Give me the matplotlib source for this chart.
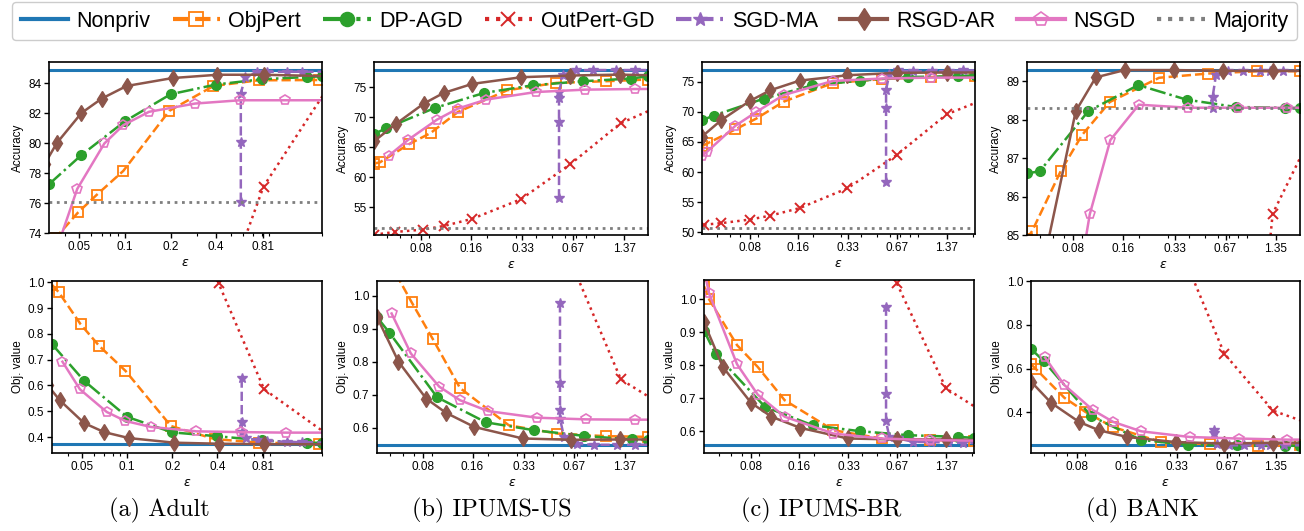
import numpy as np
import matplotlib
matplotlib.use('Agg')
import matplotlib.pyplot as plt
from matplotlib.lines import Line2D
from matplotlib.ticker import NullFormatter

plt.rcParams['font.family'] = ['Liberation Sans', 'DejaVu Sans']

METHODS = ['ObjPert', 'DP-AGD', 'OutPert-GD', 'SGD-MA', 'RSGD-AR', 'NSGD']

# ---------------- Adult ----------------
ADULT_EPS = {
    'ObjPert': [0.0315, 0.035, 0.049, 0.065, 0.0975, 0.196, 0.384, 0.762, 1.9],
    'DP-AGD': [0.0315, 0.0516, 0.1, 0.2, 0.4, 0.8, 1.6, 2.0],
    'OutPert-GD': [0.2058, 0.408, 0.822, 2.4],
    'SGD-MA': [0.582, 0.582, 0.582, 0.622, 0.743, 0.865, 1.174, 1.474, 2.3],
    'RSGD-AR': [0.0295, 0.0355, 0.0516, 0.0702, 0.1025, 0.206, 0.408, 0.822, 2.3],
    'NSGD': [0.037, 0.0484, 0.0731, 0.0975, 0.1442, 0.2903, 0.576, 1.144, 2.3],
}
ADULT_ACC = {
    'ObjPert': [72.8, 73.7, 75.37, 76.54, 78.14, 82.14, 83.8, 84.18, 84.2],
    'DP-AGD': [77.25, 79.2, 81.45, 83.25, 83.9, 84.25, 84.4, 84.45],
    'OutPert-GD': [60.0, 68.6, 77.1, 84.3],
    'SGD-MA': [76.08, 80.1, 83.3, 84.4, 84.73, 84.75, 84.75, 84.75, 84.75],
    'RSGD-AR': [78.6, 80.0, 82.0, 82.96, 83.8, 84.33, 84.55, 84.55, 84.45],
    'NSGD': [73.5, 76.94, 79.97, 81.19, 82.08, 82.63, 82.85, 82.85, 82.85],
}
ADULT_OBJ = {
    'ObjPert': [0.99, 0.961, 0.8365, 0.7536, 0.6565, 0.4427, 0.392, 0.378, 0.374],
    'DP-AGD': [0.76, 0.618, 0.478, 0.418, 0.403, 0.387, 0.377, 0.378],
    'OutPert-GD': [1.6, 0.996, 0.585, 0.392],
    'SGD-MA': [0.627, 0.458, 0.42, 0.396, 0.387, 0.385, 0.381, 0.38, 0.378],
    'RSGD-AR': [0.60, 0.5425, 0.454, 0.419, 0.396, 0.378, 0.374, 0.372, 0.372],
    'NSGD': [0.692, 0.585, 0.497, 0.462, 0.439, 0.422, 0.419, 0.417, 0.417],
}

# ---------------- IPUMS-US ----------------
US_EPS = {
    'ObjPert': [0.0415, 0.0449, 0.0677, 0.0914, 0.134, 0.267, 0.53, 1.055, 1.906],
    'DP-AGD': [0.0415, 0.0494, 0.097, 0.193, 0.382, 0.77, 1.51, 1.906],
    'OutPert-GD': [0.0415, 0.0554, 0.0824, 0.11, 0.164, 0.323, 0.645, 1.30, 2.3],
    'SGD-MA': [0.55, 0.55, 0.55, 0.55, 0.582, 0.701, 0.885, 1.226, 1.583, 2.2],
    'RSGD-AR': [0.0415, 0.0562, 0.0831, 0.1098, 0.164, 0.325, 0.645, 1.284, 2.3],
    'NSGD': [0.051, 0.0669, 0.1, 0.134, 0.1995, 0.397, 0.795, 1.583, 2.2],
}
US_ACC = {
    'ObjPert': [62.3, 62.47, 65.53, 67.37, 70.88, 74.5, 75.72, 76.0, 76.28],
    'DP-AGD': [67.2, 68.2, 71.55, 74.05, 75.33, 76.0, 76.45, 76.84],
    'OutPert-GD': [50.45, 50.9, 51.3, 51.9, 53.1, 56.35, 62.2, 69.0, 72.0],
    'SGD-MA': [56.5, 69.15, 73.2, 74.2, 77.1, 77.84, 77.86, 77.86, 77.86, 77.86],
    'RSGD-AR': [66.0, 68.87, 72.27, 74.05, 75.56, 76.67, 76.95, 77.1, 76.95],
    'NSGD': [63.6, 66.25, 69.6, 71.45, 72.95, 74.2, 74.6, 74.7, 74.72],
}
US_OBJ = {
    'ObjPert': [1.17, 1.14, 0.98, 0.868, 0.72, 0.607, 0.582, 0.574, 0.572],
    'DP-AGD': [0.935, 0.888, 0.692, 0.616, 0.592, 0.575, 0.564, 0.562],
    'OutPert-GD': [5.0, 4.5, 3.8, 3.2, 2.6, 1.8, 1.1, 0.746, 0.67],
    'SGD-MA': [0.977, 0.734, 0.653, 0.627, 0.572, 0.551, 0.548, 0.548, 0.548, 0.548],
    'RSGD-AR': [0.935, 0.80, 0.688, 0.645, 0.602, 0.567, 0.563, 0.564, 0.564],
    'NSGD': [0.946, 0.825, 0.724, 0.683, 0.65, 0.63, 0.625, 0.624, 0.624],
}

# ---------------- IPUMS-BR ----------------
BR_EPS = {
    'ObjPert': [0.0403, 0.0434, 0.0652, 0.0881, 0.1304, 0.265, 0.535, 1.088, 2.05],
    'DP-AGD': [0.0403, 0.0477, 0.0979, 0.196, 0.393, 0.786, 1.613, 2.05],
    'OutPert-GD': [0.0416, 0.053, 0.08, 0.1076, 0.164, 0.327, 0.665, 1.364, 2.4],
    'SGD-MA': [0.57, 0.57, 0.57, 0.598, 0.681, 0.845, 1.1, 1.4, 1.735, 2.4],
    'RSGD-AR': [0.0403, 0.053, 0.08, 0.1076, 0.164, 0.327, 0.665, 1.364, 2.4],
    'NSGD': [0.0403, 0.0434, 0.0652, 0.0881, 0.1304, 0.265, 0.535, 1.088, 2.4],
}
BR_ACC = {
    'ObjPert': [64.3, 64.75, 67.1, 68.9, 71.7, 74.8, 75.45, 75.8, 75.95],
    'DP-AGD': [68.6, 69.4, 72.2, 74.4, 75.2, 75.8, 75.95, 76.1],
    'OutPert-GD': [51.25, 51.5, 52.1, 52.75, 54.0, 57.3, 62.85, 69.6, 72.2],
    'SGD-MA': [58.3, 70.6, 73.7, 76.3, 76.9, 76.75, 76.75, 76.8, 76.9, 76.9],
    'RSGD-AR': [65.9, 68.6, 71.8, 73.6, 75.2, 76.1, 76.5, 76.55, 76.55],
    'NSGD': [62.7, 63.4, 67.7, 70.0, 72.8, 75.15, 75.55, 75.7, 75.7],
}
BR_OBJ = {
    'ObjPert': [1.04, 1.0, 0.861, 0.795, 0.694, 0.603, 0.578, 0.573, 0.571],
    'DP-AGD': [0.905, 0.834, 0.674, 0.618, 0.6, 0.588, 0.583, 0.58],
    'OutPert-GD': [9.0, 7.0, 5.0, 4.0, 3.0, 1.6, 1.05, 0.73, 0.655],
    'SGD-MA': [0.978, 0.712, 0.63, 0.583, 0.578, 0.568, 0.567, 0.566, 0.565, 0.565],
    'RSGD-AR': [0.93, 0.795, 0.686, 0.644, 0.61, 0.578, 0.575, 0.575, 0.573],
    'NSGD': [1.09, 1.018, 0.803, 0.711, 0.644, 0.593, 0.578, 0.573, 0.571],
}

# ---------------- BANK ----------------
BANK_EPS = {
    'ObjPert': [0.0418, 0.045, 0.0671, 0.0902, 0.133, 0.265, 0.526, 1.045, 1.897],
    'DP-AGD': [0.0418, 0.05, 0.0983, 0.198, 0.389, 0.775, 1.538, 1.897],
    'OutPert-GD': [0.1637, 0.325, 0.649, 1.294, 2.2],
    'SGD-MA': [0.559, 0.559, 0.586, 0.696, 0.858, 1.084, 1.247, 1.503, 2.2],
    'RSGD-AR': [0.0418, 0.0556, 0.0826, 0.1093, 0.1637, 0.325, 0.649, 1.294, 2.2],
    'NSGD': [0.051, 0.0669, 0.1005, 0.134, 0.1995, 0.398, 0.795, 1.583, 2.2],
}
BANK_ACC = {
    'ObjPert': [84.9, 85.11, 86.67, 87.6, 88.46, 89.09, 89.2, 89.26, 89.26],
    'DP-AGD': [86.6, 86.66, 88.22, 88.9, 88.52, 88.33, 88.31, 88.3],
    'OutPert-GD': [50.0, 60.0, 72.1, 85.55, 87.56],
    'SGD-MA': [88.3, 88.58, 89.16, 89.27, 89.27, 89.27, 89.27, 89.27, 89.27],
    'RSGD-AR': [83.0, 84.75, 88.22, 89.1, 89.29, 89.29, 89.27, 89.27, 89.27],
    'NSGD': [78.0, 81.0, 85.54, 87.47, 88.39, 88.31, 88.31, 88.31, 88.31],
}
BANK_OBJ = {
    'ObjPert': [0.62, 0.597, 0.467, 0.403, 0.334, 0.265, 0.255, 0.247, 0.25],
    'DP-AGD': [0.69, 0.635, 0.383, 0.275, 0.252, 0.25, 0.248, 0.248],
    'OutPert-GD': [2.0, 1.2, 0.668, 0.408, 0.348],
    'SGD-MA': [0.32, 0.304, 0.255, 0.25, 0.25, 0.25, 0.25, 0.25, 0.25],
    'RSGD-AR': [0.541, 0.444, 0.357, 0.319, 0.288, 0.265, 0.258, 0.262, 0.262],
    'NSGD': [0.651, 0.526, 0.411, 0.357, 0.314, 0.288, 0.281, 0.276, 0.276],
}

CAPTIONS = ['(a) Adult', '(b) IPUMS-US', '(c) IPUMS-BR', '(d) BANK']
NONPRIV_ACC = [84.84, 77.95, 76.93, 89.29]
NONPRIV_OBJ = [0.3715, 0.5473, 0.5575, 0.25]
MAJORITY_ACC = [76.08, 51.49, 50.72, 88.31]

XTICKS = [
    [0.05, 0.1, 0.2, 0.4, 0.81],
    [0.08, 0.16, 0.33, 0.67, 1.37],
    [0.08, 0.16, 0.33, 0.67, 1.37],
    [0.08, 0.16, 0.33, 0.67, 1.35],
]
ACC_YTICKS = [
    [74, 76, 78, 80, 82, 84],
    [55, 60, 65, 70, 75],
    [50, 55, 60, 65, 70, 75],
    [85, 86, 87, 88, 89],
]
OBJ_YTICKS = [
    [0.4, 0.5, 0.6, 0.7, 0.8, 0.9, 1.0],
    [0.6, 0.7, 0.8, 0.9, 1.0],
    [0.6, 0.7, 0.8, 0.9, 1.0],
    [0.4, 0.6, 0.8, 1.0],
]

# layout (pixels)
W, H = 1304, 531
XLIMS = [(0.0315, 2.0), (0.0415, 1.906), (0.0403, 2.05), (0.0418, 1.897)]
ACC_YLIMS = [(74, 85.4), (50.4, 79.2), (49.7, 78.3), (85, 89.5)]
OBJ_YLIMS = [(0.338, 1.005), (0.523, 1.0445), (0.534, 1.0587), (0.215, 1.0)]
TOP_BOX = [(49, 322, 62, 233), (374, 648, 62, 235), (702, 975, 62, 234), (1027, 1300, 62, 235)]
BOT_BOX = [(52, 322, 281, 453), (377, 648, 281, 453), (704, 974, 280, 453), (1031, 1300, 281, 453)]
CAP_X = [159, 492, 821, 1142]

STYLE = {
    'ObjPert': dict(color='tab:orange', ls='--', marker='s', mfc='none', ms=6.5, mew=1.3),
    'DP-AGD': dict(color='tab:green', ls='-.', marker='o', ms=7),
    'OutPert-GD': dict(color='tab:red', ls=':', marker='x', ms=7, mew=1.4),
    'SGD-MA': dict(color='tab:purple', ls='--', marker='*', ms=7),
    'RSGD-AR': dict(color='tab:brown', ls='-', marker='d', ms=8),
    'NSGD': dict(color='tab:pink', ls='-', marker='p', mfc='none', ms=7, mew=1.2),
}
LW = 1.8

datasets = [
    (ADULT_EPS, ADULT_ACC, ADULT_OBJ),
    (US_EPS, US_ACC, US_OBJ),
    (BR_EPS, BR_ACC, BR_OBJ),
    (BANK_EPS, BANK_ACC, BANK_OBJ),
]


def box_to_rect(b):
    x0, x1, y0, y1 = b
    return [x0 / W, 1 - y1 / H, (x1 - x0) / W, (y1 - y0) / H]


def style_axis(ax, i, yticks, ylim, ylabel):
    ax.set_xscale('log')
    ax.set_xlim(*XLIMS[i])
    ax.set_xticks(XTICKS[i])
    ax.set_xticklabels([str(t) for t in XTICKS[i]])
    ax.xaxis.set_minor_formatter(NullFormatter())
    ax.set_yticks(yticks)
    ax.set_ylim(*ylim)
    ax.set_ylabel(ylabel, fontsize=8.5, labelpad=3)
    ax.set_xlabel(r'$\epsilon$', fontsize=9, labelpad=3)
    ax.tick_params(labelsize=8.5, length=3.5, width=1.0, pad=2)
    ax.tick_params(which='minor', length=2, width=0.8)
    for s in ax.spines.values():
        s.set_linewidth(1.2)


fig = plt.figure(figsize=(W / 100, H / 100), dpi=100)

for i, (eps, acc, obj) in enumerate(datasets):
    ax = fig.add_axes(box_to_rect(TOP_BOX[i]))
    ax.axhline(NONPRIV_ACC[i], color='tab:blue', lw=2.2)
    for m in METHODS:
        ax.plot(eps[m], acc[m], lw=LW, **STYLE[m])
    ax.axhline(MAJORITY_ACC[i], color='tab:gray', ls=':', lw=2.0)
    style_axis(ax, i, ACC_YTICKS[i], ACC_YLIMS[i], 'Accuracy')

    ax = fig.add_axes(box_to_rect(BOT_BOX[i]))
    ax.axhline(NONPRIV_OBJ[i], color='tab:blue', lw=2.2)
    for m in METHODS:
        ax.plot(eps[m], obj[m], lw=LW, **STYLE[m])
    style_axis(ax, i, OBJ_YTICKS[i], OBJ_YLIMS[i], 'Obj. value')
    if i != 3:
        ax.yaxis.set_major_formatter(plt.FormatStrFormatter('%.1f'))

    fig.text(CAP_X[i] / W, 1 - 510 / H, CAPTIONS[i], ha='center', va='center',
             family='cmr10', fontsize=17.5)

# legend
handles = [Line2D([], [], color='tab:blue', lw=3)]
for m in METHODS:
    st = dict(STYLE[m])
    st['ms'] = st['ms'] * 1.45
    handles.append(Line2D([], [], lw=3, **st))
handles.append(Line2D([], [], color='tab:gray', ls=':', lw=3))
labels = ['Nonpriv'] + METHODS + ['Majority']
fig.legend(handles, labels, loc='upper center', ncol=8, mode='expand',
           bbox_to_anchor=(12 / W, 1 - 39 / H, 1285 / W, 37 / H),
           borderaxespad=0, fontsize=15.5, handlelength=2.2, handletextpad=0.4,
           numpoints=1, fancybox=True, edgecolor='0.8', framealpha=1.0)

plt.savefig('out.png', dpi=100)
